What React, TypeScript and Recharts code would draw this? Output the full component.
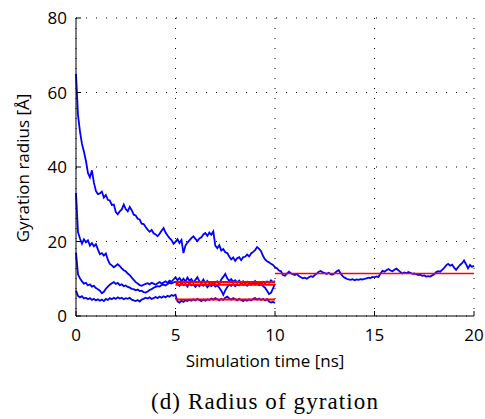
import { LineChart, Line, XAxis, YAxis, CartesianGrid, Label } from "recharts";

// simulation time step [ns]
const dt = 0.1;

// run that continues to 20 ns (0.0 .. 20.0 every 0.1 ns)
const radiusA = [
  65, 54, 49.5, 46.2, 44.1, 41.6, 38.4, 37.2, 39.1, 35.8,
  33.6, 32.7, 32.9, 33.4, 31.8, 32.5, 31.2, 31.0, 29.8, 29.9,
  27.9, 27.3, 28.1, 28.6, 29.9, 28.7, 28.1, 29.3, 28.4, 27.2,
  27.0, 26.1, 25.9, 24.8, 24.7, 23.9, 23.2, 22.6, 23.1, 22.2,
  21.9, 21.4, 22.1, 22.9, 23.6, 22.4, 21.6, 20.9, 20.4, 19.4,
  19.9, 20.6, 19.6, 20.4, 16.9, 18.9, 19.7, 20.3, 20.9, 21.4,
  20.7, 20.1, 20.8, 21.1, 21.9, 22.3, 21.5, 22.4, 21.8, 22.7,
  18.9, 18.2, 19.0, 17.6, 18.0, 17.1, 16.9, 16.0, 15.2, 15.7,
  14.8, 15.5, 15.8, 15.0, 15.8, 15.9, 16.5, 16.0, 16.8, 17.2,
  17.7, 18.5, 18.0, 17.4, 16.1, 15.2, 14.7, 14.4, 14.0, 13.7,
  13.1, 12.8, 12.2, 12.0, 11.0, 10.8, 11.4, 11.9, 11.5, 11.2,
  11.0, 11.3, 10.7, 10.4, 10.1, 10.3, 10.0, 10.4, 10.7, 10.5,
  11.0, 11.4, 11.9, 12.1, 11.7, 11.5, 11.3, 11.6, 11.2, 11.1,
  11.5, 12.0, 12.3, 11.4, 10.7, 10.3, 10.0, 9.8, 9.7, 9.9,
  9.6, 9.8, 9.7, 9.9, 9.8, 10.0, 10.1, 10.3, 10.2, 10.5,
  10.4, 10.6, 10.5, 11.4, 12.1, 11.9, 12.3, 12.6, 12.2, 12.0,
  12.4, 12.7, 12.3, 11.8, 11.4, 11.7, 11.5, 11.8, 11.6, 11.3,
  11.4, 11.2, 11.0, 11.1, 10.8, 10.9, 10.6, 10.7, 10.6, 10.9,
  11.2, 11.8, 12.0, 11.9, 12.4, 12.9, 13.6, 14.0, 13.5, 13.8,
  13.0, 12.4, 13.1, 13.7, 14.2, 14.9, 13.9, 12.8, 13.7, 13.2,
  13.5,
];

// three runs that stop at 10 ns
const radiusB = [
  33, 22.5, 20.8, 19.4, 20.6, 19.8, 20.3, 18.9, 19.6, 18.7,
  19.3, 17.9, 16.6, 16.9, 16.2, 16.8, 15.1, 14.0, 13.6, 13.1,
  13.5, 13.9, 13.4, 12.8, 12.3, 12.0, 11.4, 11.0, 10.3, 9.7,
  9.1, 8.7, 8.3, 8.1, 8.4, 8.6, 8.8, 8.5, 8.9, 8.7,
  8.4, 8.8, 9.1, 8.7, 9.0, 9.3, 8.9, 9.5, 9.2, 9.8,
  10.4, 9.6, 10.2, 9.4, 10.0, 9.2, 10.3, 9.5, 9.9, 8.9,
  9.7, 10.4, 9.3, 9.0, 9.8, 8.8, 9.4, 8.7, 9.1, 8.5,
  8.9, 9.3, 8.6, 9.8, 10.5, 11.3, 10.1, 9.4, 9.9, 9.2,
  9.6, 9.0, 9.5, 8.7, 9.3, 8.8, 9.2, 8.6, 9.1, 8.9,
  9.4, 8.7, 9.0, 8.5, 9.2, 8.8, 9.3, 8.9, 9.6, 9.1,
  9.4,
];

const radiusC = [
  17, 11.2, 10.1, 9.3, 8.7, 8.9, 8.2, 8.5, 7.9, 8.1,
  7.5, 7.2, 6.8, 6.1, 6.5, 7.3, 7.9, 8.4, 8.8, 9.1,
  8.6, 8.9, 8.3, 8.5, 8.0, 8.2, 7.8, 7.6, 7.3, 7.2,
  6.9, 7.1, 6.7, 6.8, 6.4, 6.3, 6.6, 7.0, 7.2, 7.6,
  7.8, 8.0, 7.9, 8.3, 8.4, 8.2, 8.6, 8.9, 8.7, 9.0,
  9.2, 8.7, 8.1, 8.9, 8.3, 8.6, 7.9, 8.8, 8.2, 8.5,
  7.8, 8.4, 8.0, 8.7, 8.1, 8.6, 7.7, 8.3, 8.0, 8.5,
  7.9, 8.2, 7.6, 6.8, 5.7, 6.9, 7.8, 8.4, 8.1, 8.6,
  8.0, 8.5, 8.2, 8.8, 8.3, 8.6, 8.1, 8.7, 8.4, 8.9,
  8.5, 8.8, 8.3, 8.6, 8.0, 7.6, 6.8, 5.9, 6.2, 7.4,
  8.6,
];

const radiusD = [
  6.8, 5.4, 5.0, 5.3, 4.7, 4.9, 4.5, 4.8, 4.3, 4.6,
  4.2, 4.5, 4.1, 4.4, 4.0, 4.6, 4.3, 4.8, 4.5, 4.9,
  4.6, 5.0, 4.7, 4.9, 4.5, 4.8, 4.6, 4.9, 4.4, 4.2,
  4.0, 4.3, 3.9, 4.4, 4.6, 4.9, 4.7, 5.0, 4.6, 4.8,
  5.1, 4.8, 5.2, 4.9, 5.3, 5.0, 5.4, 5.2, 5.6, 5.4,
  5.7, 3.9, 3.6, 4.1, 3.8, 4.2, 4.0, 4.4, 4.1, 4.5,
  4.2, 4.6, 4.3, 4.0, 4.4, 4.1, 4.5, 4.3, 4.7, 4.4,
  4.8, 4.5, 4.2, 4.6, 4.3, 4.9, 5.2, 4.7, 4.4, 4.8,
  4.5, 4.2, 4.6, 4.3, 4.0, 4.4, 4.1, 4.5, 4.2, 4.6,
  4.8, 4.4, 4.7, 4.3, 4.6, 4.2, 4.5, 3.9, 3.6, 3.8,
  3.5,
];

// averaged radius over the equilibrated windows
const meanStart = [5, 5, 5, 10];
const meanEnd = [10, 10, 10, 20];
const meanValue = [9.1, 8.4, 4.4, 11.4];

const xTicks = [0, 5, 10, 15, 20];
const yTicks = [0, 20, 40, 60, 80];

const data = radiusA.map((a, i) => {
  const t = Math.round(i * dt * 10) / 10;
  const row: Record<string, number | undefined> = {
    t,
    a,
    b: radiusB[i],
    c: radiusC[i],
    d: radiusD[i],
  };
  meanValue.forEach((v, k) => {
    row[`m${k}`] = t >= meanStart[k] && t <= meanEnd[k] ? v : undefined;
  });
  return row;
});

const font = "'Open Sans', Lato, sans-serif";
const tickStyle = { fontFamily: font, fontSize: 17, fill: "#000" };

export default function App() {
  return (
    <div style={{ position: "absolute", left: 0, top: 0, width: 485, height: 419, background: "#fff" }}>
      <LineChart width={485} height={419} data={data} margin={{ top: 18, right: 11, bottom: 0, left: 0 }}>
        <CartesianGrid stroke="#000" strokeDasharray="1 9" />
        <XAxis
          dataKey="t"
          type="number"
          domain={[0, 20]}
          ticks={xTicks}
          height={103}
          stroke="#000"
          tickSize={-5}
          tickMargin={18}
          tick={tickStyle}
        />
        <XAxis
          xAxisId="top"
          orientation="top"
          dataKey="t"
          type="number"
          domain={[0, 20]}
          ticks={xTicks}
          height={0}
          stroke="#000"
          tickSize={-5}
          tick={false}
        />
        <YAxis
          type="number"
          domain={[0, 80]}
          ticks={yTicks}
          width={76}
          stroke="#000"
          tickSize={-5}
          tickMargin={14}
          tick={tickStyle}
        >
          <Label
            content={() => (
              <text
                x={22}
                y={168}
                transform="rotate(-90, 22, 168)"
                textAnchor="middle"
                dominantBaseline="central"
                style={{ fontFamily: font, fontSize: 17, fill: "#000" }}
              >
                Gyration radius [Å]
              </text>
            )}
          />
        </YAxis>
        <YAxis
          yAxisId="right"
          orientation="right"
          type="number"
          domain={[0, 80]}
          ticks={yTicks}
          width={0}
          stroke="#000"
          tickSize={-5}
          tick={false}
        />
        <Line type="linear" dataKey="a" stroke="#0000ff" strokeWidth={1.8} dot={false} isAnimationActive={false} />
        <Line type="linear" dataKey="b" stroke="#0000ff" strokeWidth={1.8} dot={false} isAnimationActive={false} />
        <Line type="linear" dataKey="c" stroke="#0000ff" strokeWidth={1.8} dot={false} isAnimationActive={false} />
        <Line type="linear" dataKey="d" stroke="#0000ff" strokeWidth={1.8} dot={false} isAnimationActive={false} />
        {meanValue.map((_, k) => (
          <Line
            key={k}
            type="linear"
            dataKey={`m${k}`}
            stroke="#ff0000"
            strokeWidth={k < 3 ? 2 : 1.5}
            dot={false}
            isAnimationActive={false}
          />
        ))}
      </LineChart>
      <div
        style={{
          position: "absolute",
          left: 0,
          width: 530,
          top: 349,
          textAlign: "center",
          fontFamily: font,
          fontSize: 17,
          color: "#000",
        }}
      >
        Simulation time [ns]
      </div>
      <div
        style={{
          position: "absolute",
          left: 0,
          width: 530,
          top: 389,
          textAlign: "center",
          fontFamily: "'Liberation Serif', serif",
          fontSize: 23,
          letterSpacing: 1.1,
          color: "#000",
        }}
      >
        (d) Radius of gyration
      </div>
    </div>
  );
}
